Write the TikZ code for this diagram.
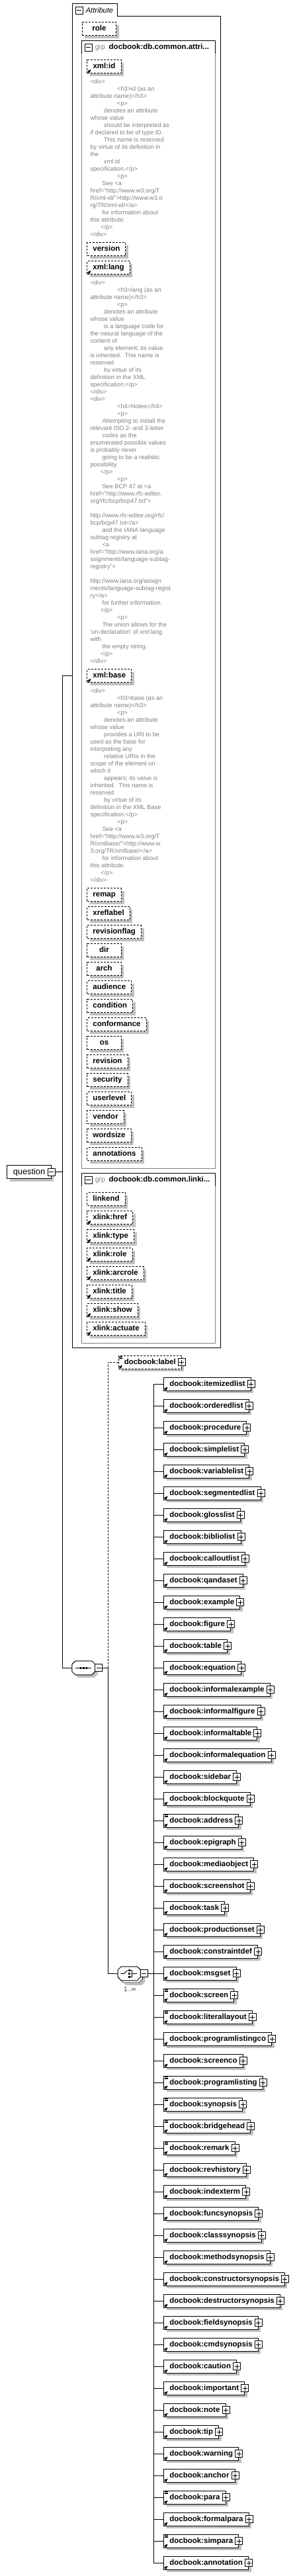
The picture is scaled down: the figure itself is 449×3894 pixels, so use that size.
\documentclass[tikz,border=0pt]{standalone}
\usepackage{fontspec}
\setmainfont{Liberation Sans}
\usetikzlibrary{arrows, calc, positioning}
\definecolor{shadowgray}{RGB}{192,192,192}
\definecolor{docgray}{RGB}{128,128,128}
\newcommand{\lblfont}{\fontsize{11.5}{13}\selectfont\bfseries}
\newcommand{\docfont}{\fontsize{9.2}{11}\selectfont}
\newcommand{\ia}{\hspace*{40.7pt}}
\newcommand{\ib}{\hspace*{20.7pt}}
\newcommand{\ic}{\hspace*{18pt}}
\newcommand{\iq}{\hspace*{15.7pt}}
\newcommand{\octo}[2]{\draw[#1] ($(#2.north west)+(5,0)$) -- ($(#2.north east)+(-5,0)$)
  -- ($(#2.north east)+(0,5)$) -- ($(#2.south east)+(0,-5)$) -- ($(#2.south east)+(-5,0)$)
  -- ($(#2.south west)+(5,0)$) -- ($(#2.south west)+(0,-5)$) -- ($(#2.north west)+(0,5)$) -- cycle;}
\tikzset{
  shadowed/.style={preaction={draw=none, fill=shadowgray, transform canvas={shift={(4pt,-4pt)}}}},
  attr/.style={draw, fill=white, shadowed, dash pattern=on 3pt off 2pt, font=\lblfont,
    minimum width=51.4pt, minimum height=20pt, inner xsep=8.6pt, inner ysep=0pt,
    text height=8.3pt, text depth=2.2pt, anchor=north west},
  elem/.style={attr, solid, anchor=west},
  doc/.style={font=\docfont, text=docgray, align=left, inner sep=0pt, anchor=north west},
  grphead/.style={font=\lblfont, inner sep=0pt, anchor=west},
  plusicon/.pic={\draw[fill=white] (-5.5,-5.5) rectangle (5.5,5.5); \draw (-3.5,0) -- (3.5,0) (0,-3.5) -- (0,3.5);},
  minusicon/.pic={\draw[fill=white] (-5.5,-5.5) rectangle (5.5,5.5); \draw (-3.5,0) -- (3.5,0);},
  refmark/.pic={\draw[line width=0.9pt, ->, >=stealth'] (1.5,-1.5) -- (6,-6);},
  mixmark/.pic={\draw[line width=0.8pt] (1.2,1.6) -- (6.5,1.6) (1.2,3.3) -- (6.5,3.3) (1.2,5) -- (6.5,5);}
}
\begin{document}
\begin{tikzpicture}[x=1pt, y=-1pt, line width=1pt]
 \useasboundingbox (0,0) rectangle (449,3894);

 \node[minimum width=223pt, minimum height=2030.7pt, inner sep=0pt, anchor=north west] (attrs) at (109.3,5.3) {};
 \draw (attrs.north west) -- ($(attrs.north west)+(68,0)$) -- ($(attrs.north west)+(68,19)$)
   -- ($(attrs.north east)+(0,19)$) -- (attrs.south east) -- (attrs.south west) -- cycle;
 \pic at (119.8,15.8) {minusicon};
 \node[font=\fontsize{11.1}{13}\selectfont\itshape, inner sep=0pt, anchor=west] (attrtab) at (129.3,15.3) {Attribute};

 \node[attr] (role) at (123.7,33.3) {role};

 \node[minimum width=201pt, minimum height=1703.7pt, inner sep=0pt, anchor=north west] (grpattr) at (123.3,61.3) {};
 \draw[docgray] (grpattr.north west) rectangle (grpattr.south east);
 \draw ($(grpattr.north west)+(0,19.4)$) -- (grpattr.north west) -- (grpattr.north east) -- ($(grpattr.north east)+(0,19.4)$);
 \pic at (133.8,71.7) {minusicon};
 \node[grphead] (grpattrhd) at (143.3,71.3) {{\fontsize{10.6}{12}\selectfont\mdseries\color{docgray}grp}\hspace{5.6pt}docbook:db.common.attri...};

 \node[attr] (xmlid) at (131.3,90.3) {xml:id};
 \pic at (xmlid.south west) {refmark};
 \node[doc] (xmliddoc) at (136,119.3) {<div>\\
\ia<h3>id (as an\\
attribute name)</h3>\\
\ia<p>\\
\ib denotes an attribute\\
whose value\\
\ib should be interpreted as\\
if declared to be of type ID.\\
\ib This name is reserved\\
by virtue of its definition in\\
the\\
\ib xml:id\\
specification.</p>\\
\ia<p>\\
\ic See <a\\
href="http://www.w3.org/T\\
R/xml-id/">http://www.w3.o\\
rg/TR/xml-id/</a>\\
\ic for information about\\
this attribute.\\
\iq</p>\\
</div>};

 \node[attr] (version) at (131.3,366.3) {version};
 \node[attr] (xmllang) at (131.3,394.3) {xml:lang};
 \pic at (xmllang.south west) {refmark};
 \node[doc] (xmllangdoc) at (136,423.3) {<div>\\
\ia<h3>lang (as an\\
attribute name)</h3>\\
\ia<p>\\
\ib denotes an attribute\\
whose value\\
\ib is a language code for\\
the natural language of the\\
content of\\
\ib any element; its value\\
is inherited.\ \ This name is\\
reserved\\
\ib by virtue of its\\
definition in the XML\\
specification.</p>\\
</div>\\
<div>\\
\ia<h4>Notes</h4>\\
\ia<p>\\
\ic Attempting to install the\\
relevant ISO 2- and 3-letter\\
\ic codes as the\\
enumerated possible values\\
is probably never\\
\ic going to be a realistic\\
possibility.\\
\iq</p>\\
\ia<p>\\
\ic See BCP 47 at <a\\
href="http://www.rfc-editor.\\
org/rfc/bcp/bcp47.txt">\\
\mbox{}\\
http://www.rfc-editor.org/rfc/\\
bcp/bcp47.txt</a>\\
\ic and the IANA language\\
subtag registry at\\
\ic <a\\
href="http://www.iana.org/a\\
ssignments/language-subtag-\\
registry">\\
\mbox{}\\
http://www.iana.org/assign\\
ments/language-subtag-regist\\
ry</a>\\
\ic for further information.\\
\iq</p>\\
\ia<p>\\
\ic The union allows for the\\
\textquotesingle un-declaration\textquotesingle{} of xml:lang\\
with\\
\ic the empty string.\\
\iq</p>\\
</div>};

 \node[attr] (xmlbase) at (131.3,1011.3) {xml:base};
 \pic at (xmlbase.south west) {refmark};
 \node[doc] (xmlbasedoc) at (136,1040.3) {<div>\\
\ia<h3>base (as an\\
attribute name)</h3>\\
\ia<p>\\
\ib denotes an attribute\\
whose value\\
\ib provides a URI to be\\
used as the base for\\
interpreting any\\
\ib relative URIs in the\\
scope of the element on\\
which it\\
\ib appears; its value is\\
inherited.\ \ This name is\\
reserved\\
\ib by virtue of its\\
definition in the XML Base\\
specification.</p>\\
\ia<p>\\
\ic See <a\\
href="http://www.w3.org/T\\
R/xmlbase/">http://www.w\\
3.org/TR/xmlbase/</a>\\
\ic for information about\\
this attribute.\\
\iq</p>\\
</div>};

 \foreach \n [count=\i] in {remap, xreflabel, revisionflag, dir, arch, audience, condition,
   conformance, os, revision, security, userlevel, vendor, wordsize, annotations}
  \node[attr] (at\i) at (131.3,{1342.3+28*(\i-1)}) {\n};

 \node[minimum width=201pt, minimum height=256pt, inner sep=0pt, anchor=north west] (grplink) at (123.3,1773.3) {};
 \draw[docgray] (grplink.north west) rectangle (grplink.south east);
 \draw ($(grplink.north west)+(0,19.4)$) -- (grplink.north west) -- (grplink.north east) -- ($(grplink.north east)+(0,19.4)$);
 \pic at (133.8,1783.7) {minusicon};
 \node[grphead] (grplinkhd) at (143.3,1783.3) {{\fontsize{10.6}{12}\selectfont\mdseries\color{docgray}grp}\hspace{5.6pt}docbook:db.common.linki...};

 \foreach \n/\f [count=\i] in {linkend/0, xlink:href/1, xlink:type/1, xlink:role/1,
   xlink:arcrole/1, xlink:title/1, xlink:show/1, xlink:actuate/1} {
  \node[attr] (lk\i) at (131.3,{1802.3+28*(\i-1)}) {\n};
  \ifnum\f=1 \pic at (lk\i.south west) {refmark}; \fi
 }

 \node[draw, fill=white, shadowed, font=\fontsize{12.8}{14}\selectfont, minimum height=20pt,
   inner xsep=9pt, inner ysep=0pt, text height=9pt, text depth=2.6pt, anchor=north west] (question) at (10.3,1761.3) {question\hspace{2.6pt}};

 \node[minimum width=34pt, minimum height=20pt, inner sep=0pt] (seq) at (126.3,2521.3) {};
 \node[minimum width=33.3pt, minimum height=20pt, inner sep=0pt] (chc) at (195.3,2983.3) {};
 \node[attr, anchor=west] (lbl) at (178.7,2059.3) {docbook:label\hspace{3pt}};

 \coordinate (qj) at (94.7,1771.3);
 \coordinate (sj) at (163.3,2521.3);
 \coordinate (cj) at (232.3,2983.3);
 \draw (question.east) -- (qj);
 \draw (qj) |- (attrs.west);
 \draw (qj) |- (seq.west);
 \draw (seq.east) -- (sj);
 \draw[dash pattern=on 3pt off 2pt] (sj) |- (lbl.west);
 \draw (sj) |- (chc.west);
 \draw (chc.east) -- (cj);

 \pic at (question.east) {minusicon};
 \pic at (lbl.south west) {refmark};
 \pic at (lbl.north west) {mixmark};
 \pic at (lbl.east) {plusicon};

 \octo{fill=shadowgray, draw=none, transform canvas={shift={(4pt,-4pt)}}}{seq}
 \octo{fill=white}{seq}
 \draw ($(seq.center)+(-12,0)$) -- ($(seq.center)+(12,0)$);
 \foreach \d in {-4.5,0,4.5}
  \fill ($(seq.center)+(\d-1.3,-1.3)$) rectangle +(2.6,2.6);
 \pic at ($(seq.east)+(5.5,0)$) {minusicon};

 \octo{fill=shadowgray, draw=none, transform canvas={shift={(7pt,-7pt)}}}{chc}
 \octo{fill=white, line width=0.6pt, transform canvas={shift={(3pt,-3pt)}}}{chc}
 \octo{fill=white}{chc}
 \draw ($(chc.center)+(-12.6,0)$) -- ($(chc.center)+(-7.6,0)$) -- ($(chc.center)+(-2.6,-5)$);
 \foreach \d in {-5,0,5}
  \fill ($(chc.center)+(-1.2,\d-1.2)$) rectangle +(2.4,2.4);
 \draw ($(chc.center)+(1.7,-5)$) -- ($(chc.center)+(3.7,-5)$) -- ($(chc.center)+(3.7,5)$) -- ($(chc.center)+(1.7,5)$);
 \draw ($(chc.center)+(3.7,0)$) -- ($(chc.center)+(11.4,0)$);
 \pic at ($(chc.east)+(5.5,0)$) {minusicon};
 \node[font=\fontsize{10}{12}\selectfont, text=black!75, inner sep=0pt] (mult) at (196.3,3006.7) {1..∞};

 \foreach \n/\m [count=\i] in {itemizedlist/0, orderedlist/0, procedure/0, simplelist/0,
   variablelist/0, segmentedlist/0, glosslist/0, bibliolist/0, calloutlist/0, qandaset/0,
   example/0, figure/0, table/0, equation/0, informalexample/0, informalfigure/0,
   informaltable/0, informalequation/0, sidebar/0, blockquote/0, address/1, epigraph/0,
   mediaobject/0, screenshot/0, task/0, productionset/0, constraintdef/0, msgset/0,
   screen/1, literallayout/1, programlistingco/0, screenco/0, programlisting/1, synopsis/1,
   bridgehead/1, remark/1, revhistory/0, indexterm/0, funcsynopsis/0, classsynopsis/0,
   methodsynopsis/0, constructorsynopsis/0, destructorsynopsis/0, fieldsynopsis/0,
   cmdsynopsis/0, caution/0, important/0, note/0, tip/0, warning/0, anchor/0, para/1,
   formalpara/0, simpara/1, annotation/0} {
  \node[elem] (c\i) at (247.3,{2092.3+33*(\i-1)}) {docbook:\n\hspace{3pt}};
  \draw (cj) |- (c\i.west);
  \pic at (c\i.south west) {refmark};
  \ifnum\m=1 \pic at (c\i.north west) {mixmark}; \fi
  \pic at (c\i.east) {plusicon};
 }
\end{tikzpicture}
\end{document}
